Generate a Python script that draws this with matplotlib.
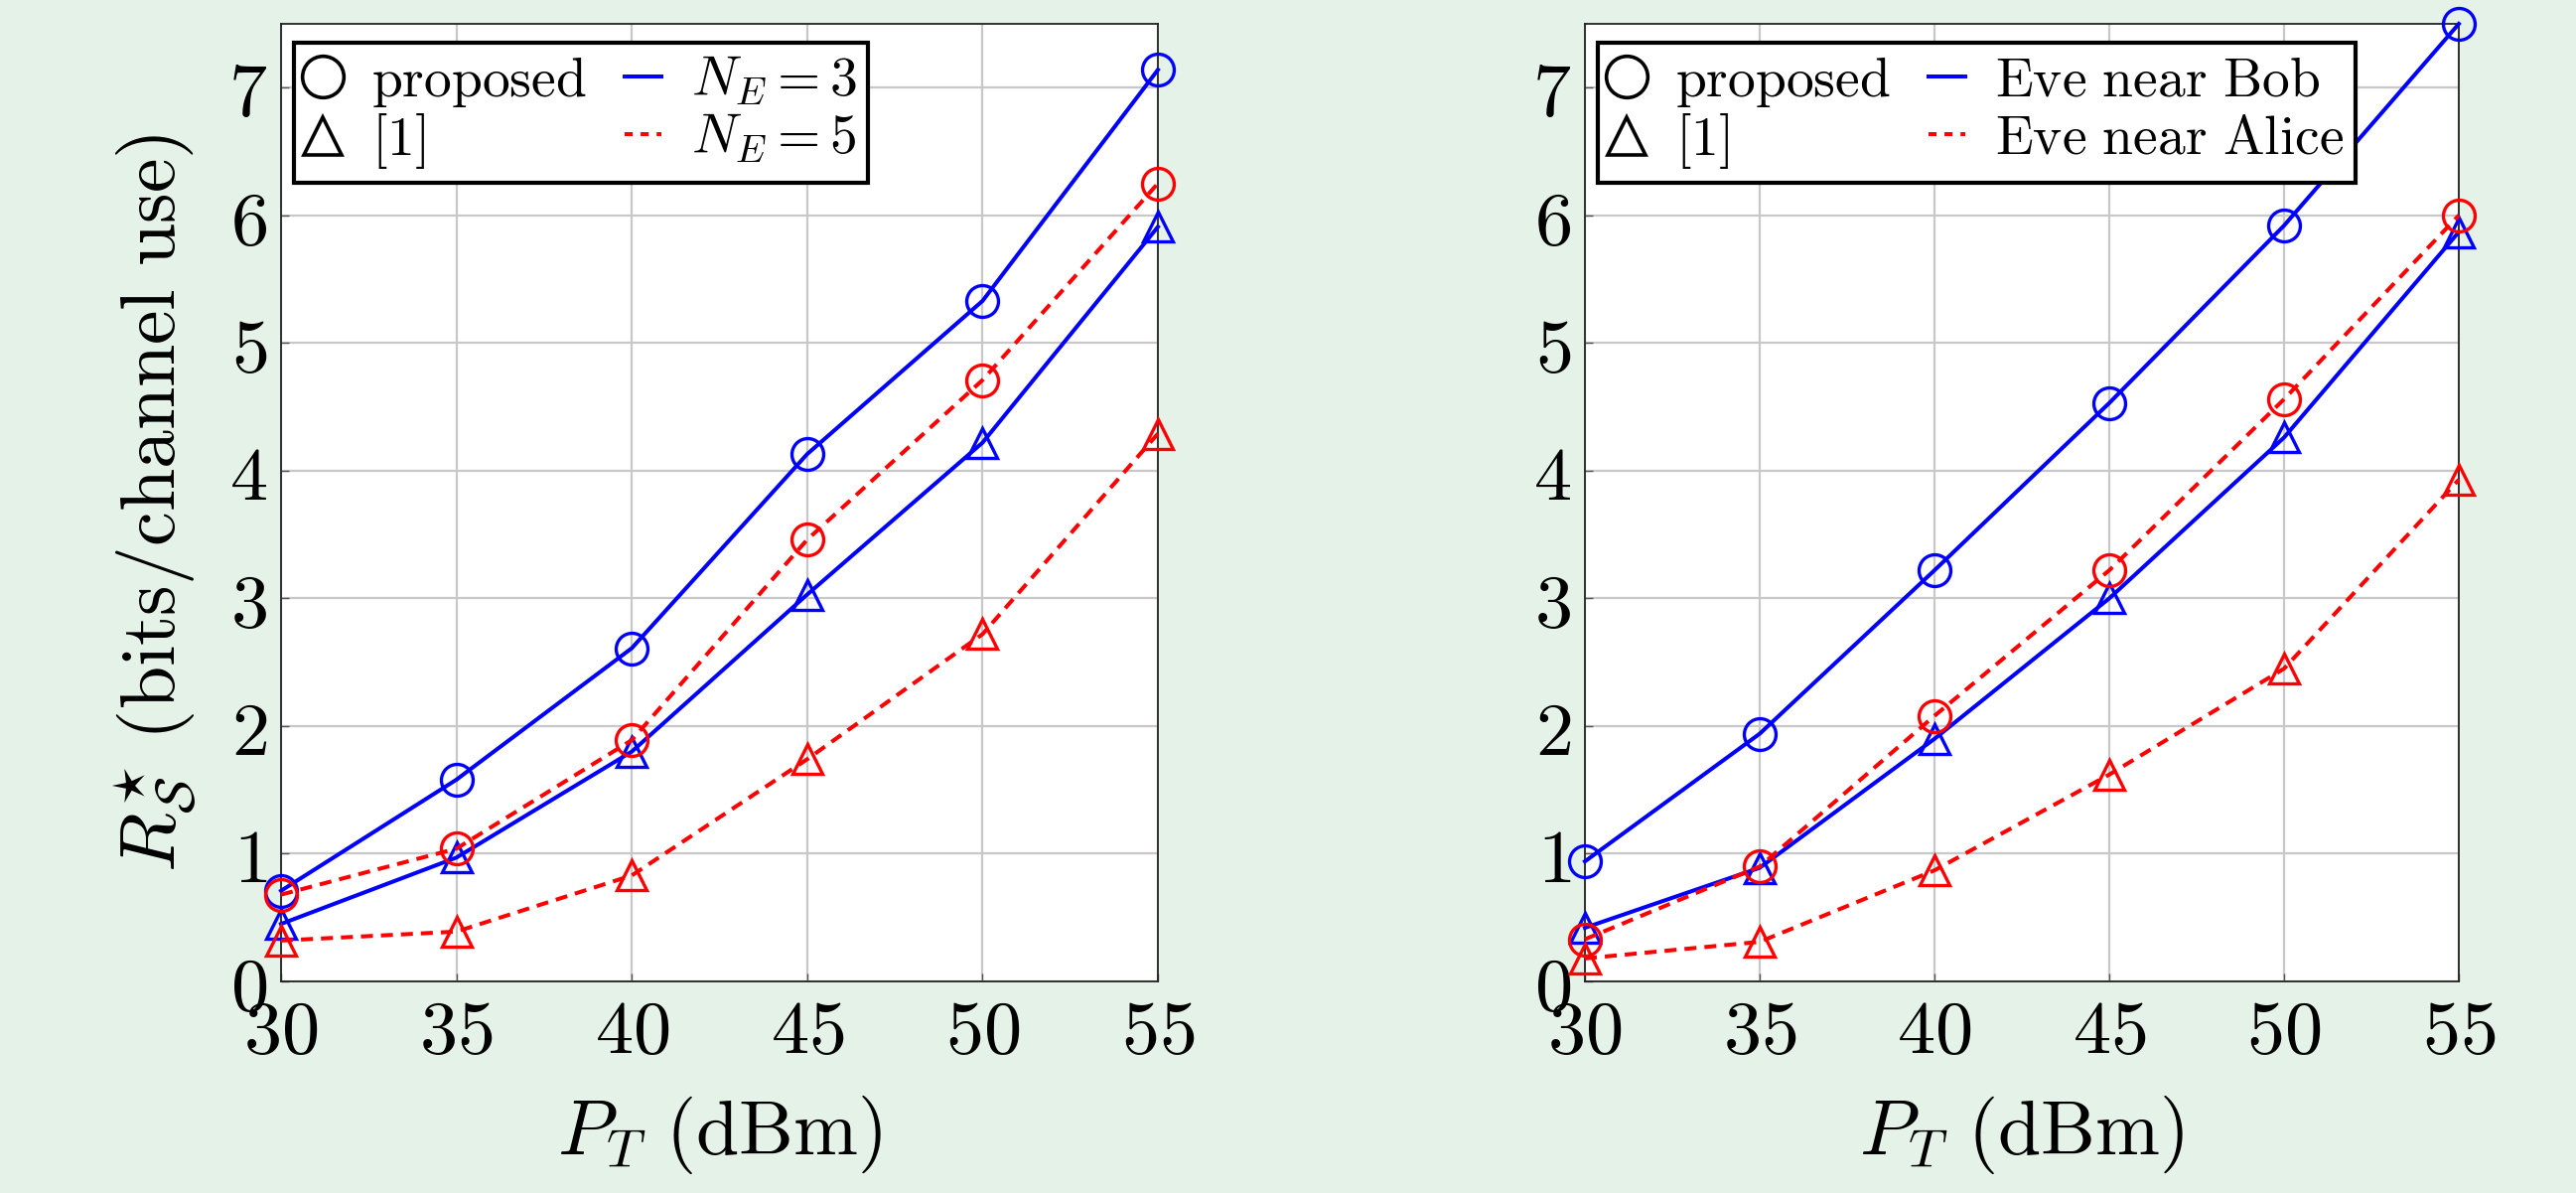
import matplotlib
matplotlib.use("Agg")
import matplotlib.pyplot as plt
from matplotlib.lines import Line2D

plt.rcParams['mathtext.fontset'] = 'cm'
plt.rcParams['font.family'] = ['DejaVu Serif']

x = [30, 35, 40, 45, 50, 55]

# Left panel: N_E = 3 / N_E = 5
left_prop_ne3 = [0.71, 1.58, 2.61, 4.13, 5.33, 7.14]
left_ref_ne3 = [0.45, 0.97, 1.80, 3.03, 4.22, 5.91]
left_prop_ne5 = [0.68, 1.04, 1.89, 3.46, 4.71, 6.25]
left_ref_ne5 = [0.32, 0.39, 0.83, 1.74, 2.72, 4.29]

# Right panel: Eve near Bob / Eve near Alice
right_prop_bob = [0.94, 1.94, 3.22, 4.53, 5.92, 7.50]
right_ref_bob = [0.42, 0.89, 1.90, 3.00, 4.26, 5.87]
right_prop_alice = [0.33, 0.90, 2.08, 3.22, 4.56, 6.00]
right_ref_alice = [0.18, 0.31, 0.87, 1.62, 2.45, 3.93]

left_labels = [r'$N_E = 3$', r'$N_E = 5$']
right_labels = [r'$\mathrm{Eve\ near\ Bob}$', r'$\mathrm{Eve\ near\ Alice}$']
marker_labels = [r'$\mathrm{proposed}$', r'$[\mathbf{1}]$']

xticks = [30, 35, 40, 45, 50, 55]
yticks = [0, 1, 2, 3, 4, 5, 6, 7]

BG = '#e5f2e8'
W, H = 2594, 1201
fig = plt.figure(figsize=(W / 100, H / 100), dpi=100, facecolor=BG)

axL = fig.add_axes([283 / W, (H - 988) / H, (1166 - 283) / W, (988 - 24) / H])
axR = fig.add_axes([1596 / W, (H - 988) / H, (2476 - 1596) / W, (988 - 24) / H])

lw = 2.9
ms = 23
mew = 2.4
dash = (3, 2)
TICKFS = 55
LEGFS = 40


def draw(ax, series, labels):
    (pb, rb, pr, rr) = series
    ax.plot(x, pb, color='blue', lw=lw, marker='o', ms=ms, mfc='none', mew=mew, clip_on=False, zorder=3)
    ax.plot(x, rb, color='blue', lw=lw, marker='^', ms=ms * 0.95, mfc='none', mew=mew, clip_on=False, zorder=3)
    ax.plot(x, pr, color='red', lw=lw, ls='--', dashes=dash, marker='o', ms=ms, mfc='none', mew=mew, clip_on=False, zorder=3)
    ax.plot(x, rr, color='red', lw=lw, ls='--', dashes=dash, marker='^', ms=ms * 0.95, mfc='none', mew=mew, clip_on=False, zorder=3)
    ax.set_xlim(30, 55)
    ax.set_ylim(0, 7.5)
    ax.set_xticks(xticks)
    ax.set_xticklabels([r'$%d$' % v for v in xticks])
    ax.set_yticks(yticks)
    ax.set_yticklabels([r'$%d$' % v for v in yticks])
    ax.tick_params(labelsize=TICKFS, direction='in', length=6, width=1.0, color='#555555', pad=10)
    ax.grid(True, color='#c8c8c8', lw=1.6)
    ax.set_axisbelow(True)
    for s in ax.spines.values():
        s.set_linewidth(1.3)
        s.set_color('#222222')
    ax.set_xlabel(r'$P_T\ \mathrm{(dBm)}$', fontsize=56, labelpad=18)

    handles = [
        Line2D([], [], ls='none', marker='o', ms=30, mfc='none', mec='black', mew=2.6),
        Line2D([], [], ls='none', marker='^', ms=28, mfc='none', mec='black', mew=2.6),
        Line2D([], [], color='blue', lw=lw),
        Line2D([], [], color='red', lw=lw, ls='--', dashes=(2, 2)),
    ]
    labs = [marker_labels[0], marker_labels[1], labels[0], labels[1]]
    leg = ax.legend(handles, labs, ncol=2, loc='upper left', bbox_to_anchor=(0.002, 0.992),
                    fontsize=LEGFS, frameon=True, fancybox=False, framealpha=1,
                    edgecolor='black', handlelength=0.65, handletextpad=0.55,
                    columnspacing=0.7, borderpad=0.2, labelspacing=0.05, borderaxespad=0.2)
    leg.get_frame().set_linewidth(3.0)


draw(axL, (left_prop_ne3, left_ref_ne3, left_prop_ne5, left_ref_ne5), left_labels)
draw(axR, (right_prop_bob, right_ref_bob, right_prop_alice, right_ref_alice), right_labels)

axL.set_ylabel(r'$R_{\mathcal{S}}^{\star}\ \mathrm{(bits/channel\ use)}$', fontsize=56, labelpad=22)

fig.savefig('out.png', dpi=100, facecolor=BG)
